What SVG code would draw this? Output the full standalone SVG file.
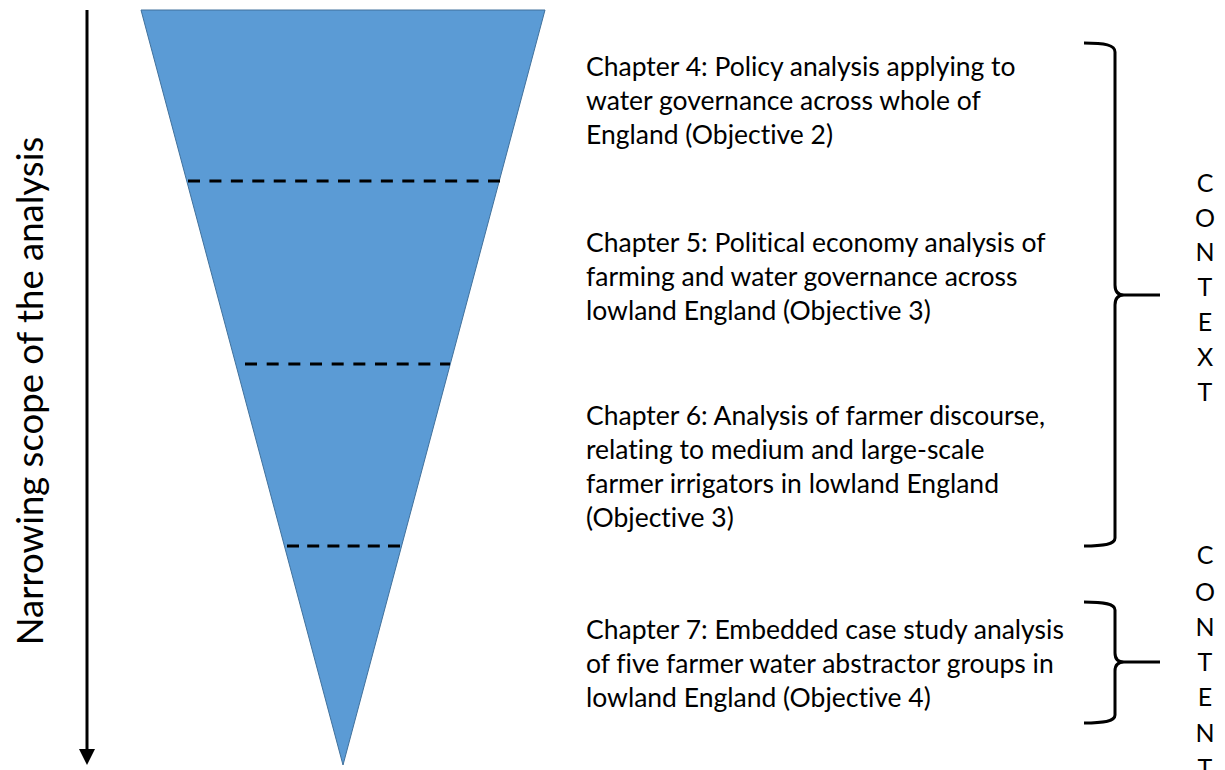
<svg xmlns="http://www.w3.org/2000/svg" width="1225" height="770" viewBox="0 0 1225 770">
<style>
.t{font-family:Lato,"Open Sans","Liberation Sans",sans-serif;font-size:26.5px;fill:#000;font-variant-ligatures:none}
.v{font-family:Lato,"Open Sans","Liberation Sans",sans-serif;font-size:25px;fill:#000;text-anchor:middle}
.ax{font-family:Lato,"Open Sans","Liberation Sans",sans-serif;font-size:36.5px;fill:#000;text-anchor:middle}
.dash{stroke:#000;stroke-width:3;stroke-dasharray:12 9;fill:none}
.brace{stroke:#000;stroke-width:3;fill:none}
</style>
<g id="connectors">
<line x1="87" y1="10" x2="87" y2="750" stroke="#000" stroke-width="3"/>
<path d="M79,749 L95,749 L87,765 Z" fill="#000"/>
</g>
<g id="axis-label">
<text class="ax" transform="translate(43,391) rotate(-90)">Narrowing scope of the analysis</text>
</g>
<g id="funnel">
<polygon points="141,10 545,10 343,765" fill="#5B9BD5" stroke="#41719C" stroke-width="1"/>
<line class="dash" x1="188" y1="181" x2="500" y2="181" style="stroke-dasharray:12 9.43"/>
<line class="dash" x1="245" y1="364" x2="450" y2="364" style="stroke-dasharray:12 9.67"/>
<line class="dash" x1="287" y1="546" x2="400" y2="546" style="stroke-dasharray:12 8.2"/>
</g>
<g id="chapter4">
<text class="t" x="586" y="76">Chapter 4: Policy analysis applying to</text>
<text class="t" x="586" y="110">water governance across whole of</text>
<text class="t" x="586" y="144">England (Objective 2)</text>
</g>
<g id="chapter5">
<text class="t" x="586" y="252">Chapter 5: Political economy analysis of</text>
<text class="t" x="586" y="286">farming and water governance across</text>
<text class="t" x="586" y="320">lowland England (Objective 3)</text>
</g>
<g id="chapter6">
<text class="t" x="586" y="425">Chapter 6: Analysis of farmer discourse,</text>
<text class="t" x="586" y="459">relating to medium and large-scale</text>
<text class="t" x="586" y="493">farmer irrigators in lowland England</text>
<text class="t" x="586" y="527">(Objective 3)</text>
</g>
<g id="chapter7">
<text class="t" x="586" y="639">Chapter 7: Embedded case study analysis</text>
<text class="t" x="586" y="673">of five farmer water abstractor groups in</text>
<text class="t" x="586" y="707">lowland England (Objective 4)</text>
</g>
<g id="brace-context">
<path class="brace" d="M1084,43 C1105,43 1115,45 1115,52 L1115,285 C1115,292 1118,295 1124,295 L1160,295 M1124,295 C1118,295 1115,298 1115,305 L1115,538 C1115,544 1105,546 1084,546"/>
</g>
<g id="brace-content">
<path class="brace" d="M1084,602 C1105,602 1115,604 1115,610 L1115,653 C1115,659 1118,662 1124,662 L1160,662 M1124,662 C1118,662 1115,665 1115,671 L1115,715 C1115,721 1105,723 1084,723"/>
</g>
<g id="context-label">
<text class="v" x="1205" y="192">C</text>
<text class="v" x="1205" y="227">O</text>
<text class="v" x="1205" y="261">N</text>
<text class="v" x="1205" y="296">T</text>
<text class="v" x="1205" y="331">E</text>
<text class="v" x="1205" y="366">X</text>
<text class="v" x="1205" y="401">T</text>
</g>
<g id="content-label">
<text class="v" x="1205" y="564">C</text>
<text class="v" x="1205" y="601">O</text>
<text class="v" x="1205" y="636">N</text>
<text class="v" x="1205" y="671">T</text>
<text class="v" x="1205" y="706">E</text>
<text class="v" x="1205" y="742">N</text>
<text class="v" x="1205" y="777">T</text>
</g>
</svg>
